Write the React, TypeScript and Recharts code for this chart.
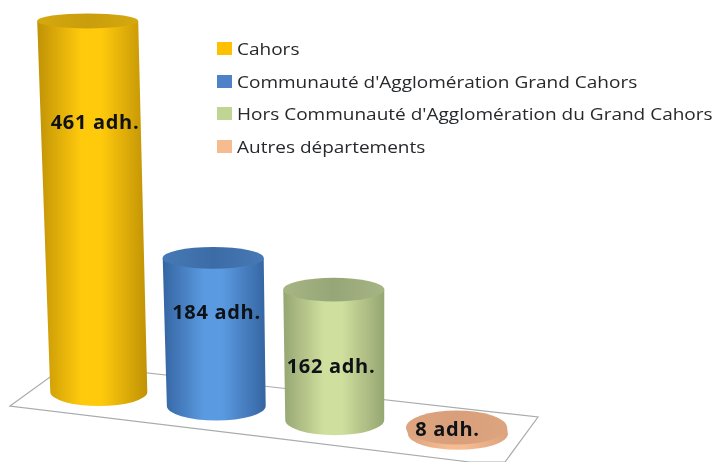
import { BarChart, Bar, XAxis, YAxis, LabelList, Legend } from 'recharts'

const categories = ['Cahors', "Communauté d'Agglomération Grand Cahors", "Hors Communauté d'Agglomération du Grand Cahors", 'Autres départements']
const adherents = [461, 184, 162, 8]
const swatches = ['#ffc000', '#4f81c8', '#c0d494', '#f6bb8e']

const data = categories.map((nom, i) => ({ nom, adherents: adherents[i], label: `${adherents[i]} adh.` }))

// kleuren van de cilinders: rand, midden, bovenvlak
const tints = [
  { edge: '#c09206', mid: '#ffca0c', top: '#c99d0c', topLight: '#d6a90f' },
  { edge: '#3565a2', mid: '#5a9ae0', top: '#3c6ca6', topLight: '#4679b6' },
  { edge: '#96a672', mid: '#cfdf9e', top: '#97a676', topLight: '#a7b585' },
  { edge: '#dca27c', mid: '#f5bb92', top: '#d89f7a', topLight: '#dda57f' },
]

// de vloer loopt schuin: elke cilinder staat iets lager
const FLOOR_STEP = 14
const labelDy = [-271, -95, -55, -6]
const labelDx = [2, 2, -5, -10]
const shiftX = [0, 0, -2, -0.5]

const ellipseRy = (y: number) => 7.5 + 0.000052 * (y * y - 484)

function Cylinder(props: any) {
  const { x, y, width, height, index } = props
  const drop = index * FLOOR_STEP
  const baseY = y + height + drop
  const topY = y + drop
  const cx = x + width / 2 + shiftX[index]
  const lean = height * (cx - 300) * 0.000125
  const topRx = width / 2 + 0.5
  const baseRx = width / 2 - height * 0.004
  const topCx = cx + lean / 2 - 0.5
  const baseCx = cx - lean / 2 + 1
  const topRy = ellipseRy(topY)
  const baseRy = ellipseRy(baseY) - 1.5
  const side = [
    `M${topCx - topRx},${topY}`,
    `L${baseCx - baseRx},${baseY}`,
    `A${baseRx},${baseRy} 0 0 0 ${baseCx + baseRx},${baseY}`,
    `L${topCx + topRx},${topY}`,
    'Z',
  ].join(' ')
  return (
    <g>
      <path d={side} fill={`url(#side${index})`} />
      <ellipse cx={topCx} cy={topY} rx={topRx} ry={topRy} fill={`url(#top${index})`} />
    </g>
  )
}

function BarLabel(props: any) {
  const { x, y, width, height, index, value } = props
  return (
    <text
      x={x + width / 2 + labelDx[index]}
      y={y + height + index * FLOOR_STEP + labelDy[index]}
      textAnchor="middle"
      dominantBaseline="central"
      fontFamily="'Open Sans', sans-serif"
      fontWeight={700}
      fontSize={20}
      letterSpacing={0.7}
      fill="#0e1216"
    >
      {value}
    </text>
  )
}

function LegendList() {
  return (
    <div style={{ fontFamily: "'Open Sans', sans-serif", fontSize: 17, color: '#26282b' }}>
      {categories.map((nom, i) => (
        <div key={nom} style={{ display: 'flex', alignItems: 'center', height: 32.7, whiteSpace: 'nowrap' }}>
          <span style={{ width: 15, height: 13, background: swatches[i], marginRight: 5, flex: 'none' }} />
          <span style={{ display: 'inline-block', transform: 'scaleX(1.118)', transformOrigin: 'left center' }}>{nom}</span>
        </div>
      ))}
    </div>
  )
}

export default function App() {
  return (
    <div style={{ position: 'absolute', left: 0, top: 0, width: 715, height: 462, background: '#fff', overflow: 'hidden', filter: 'blur(0.4px)' }}>
      <BarChart width={715} height={462} data={data} margin={{ top: 5.6, right: 197, bottom: 70, left: 32 }}>
        <defs>
          {tints.map((t, i) => (
            <linearGradient key={`s${i}`} id={`side${i}`} x1="0" x2="1" y1="0" y2="0">
              <stop offset="0%" stopColor={t.edge} />
              <stop offset="40%" stopColor={t.mid} />
              <stop offset="58%" stopColor={t.mid} />
              <stop offset="100%" stopColor={t.edge} />
            </linearGradient>
          ))}
          {tints.map((t, i) => (
            <linearGradient key={`t${i}`} id={`top${i}`} x1="0" x2="1" y1="0" y2="0">
              <stop offset="0%" stopColor={t.topLight} />
              <stop offset="50%" stopColor={t.top} />
              <stop offset="100%" stopColor={t.topLight} />
            </linearGradient>
          ))}
        </defs>
        <polygon points="10,406 68,364 538,417 505,462 470,462" fill="#fff" stroke="#a9abae" strokeWidth={1.2} />
        <XAxis dataKey="nom" hide />
        <YAxis domain={[0, 480]} hide />
        <Legend
          content={<LegendList />}
          layout="horizontal"
          align="center"
          verticalAlign="middle"
          wrapperStyle={{ left: 217, top: 32, width: 498, bottom: 'auto', right: 'auto' }}
        />
        <Bar dataKey="adherents" barSize={100} shape={<Cylinder />} isAnimationActive={false}>
          <LabelList dataKey="label" content={<BarLabel />} />
        </Bar>
      </BarChart>
    </div>
  )
}
